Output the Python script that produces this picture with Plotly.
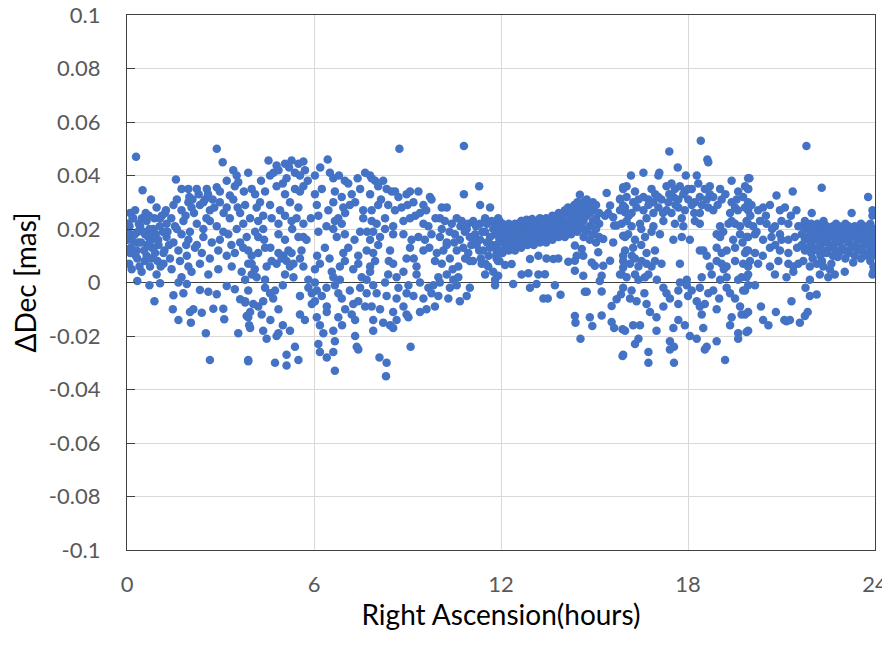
import plotly.graph_objects as go

# (RA hours, dDec mas), grouped by RA range
pts_0_4h = [
    (0.29, 0.047), (2.88, 0.050), (3.07, 0.045), (1.57, 0.0385), (0.50, 0.0345), (1.75, 0.035),
    (1.97, 0.035), (2.24, 0.035), (0.77, 0.031), (3.41, 0.042), (3.52, 0.040), (3.57, 0.0375),
    (3.46, 0.036), (2.56, 0.035), (2.88, 0.0356), (2.98, 0.034), (3.20, 0.038), (3.30, 0.0325),
    (0.10, 0.026), (0.26, 0.027), (0.95, 0.028), (1.22, 0.026), (1.49, 0.029), (1.75, 0.027),
    (1.97, 0.030), (2.07, 0.028), (2.34, 0.029), (2.50, 0.031), (2.66, 0.027), (2.98, 0.030),
    (3.20, 0.028), (3.41, 0.031), (3.63, 0.026), (2.00, 0.032), (2.10, 0.031), (2.30, 0.033),
    (2.45, 0.030), (2.60, 0.033), (2.75, 0.031),
    (0.04, 0.022), (0.20, 0.024), (0.42, 0.021), (0.63, 0.023), (0.85, 0.020), (1.06, 0.024),
    (1.27, 0.022), (1.54, 0.021), (1.81, 0.023), (2.02, 0.019), (2.24, 0.022), (2.45, 0.020),
    (2.66, 0.023), (2.88, 0.021), (3.09, 0.019), (3.30, 0.024), (3.52, 0.020), (3.73, 0.022),
    (0.02, 0.016), (0.15, 0.017), (0.36, 0.015), (0.58, 0.018), (0.79, 0.016), (1.01, 0.014),
    (1.27, 0.017), (1.49, 0.015), (1.75, 0.018), (1.97, 0.016), (2.24, 0.014), (2.45, 0.017),
    (2.72, 0.015), (2.98, 0.016), (3.25, 0.018), (3.63, 0.015), (3.84, 0.017),
    (0.10, 0.011), (0.31, 0.012), (0.63, 0.010), (0.85, 0.013), (1.17, 0.011), (1.38, 0.009),
    (1.65, 0.012), (1.92, 0.010), (2.18, 0.013), (2.40, 0.011), (2.66, 0.009), (2.93, 0.012),
    (3.20, 0.010), (3.46, 0.011), (3.73, 0.013),
    (0.07, 0.007), (0.47, 0.004), (0.74, 0.006), (0.95, 0.003), (1.17, 0.007), (1.43, 0.005),
    (1.75, 0.002), (1.97, 0.006), (2.07, 0.004), (2.34, 0.007), (2.61, 0.003), (2.93, 0.005),
    (3.36, 0.006), (3.68, 0.004), (3.89, 0.007),
    (0.05, 0.019), (0.12, 0.013), (0.18, 0.024), (0.25, 0.018), (0.33, 0.009), (0.38, 0.022),
    (0.45, 0.015), (0.52, 0.019), (0.55, 0.012), (0.60, 0.026), (0.68, 0.017), (0.72, 0.020),
    (0.80, 0.013), (0.88, 0.024), (0.92, 0.018), (0.98, 0.008), (1.05, 0.021), (1.12, 0.025),
    (1.20, 0.012), (1.30, 0.019),
    (0.03, 0.012), (0.08, 0.021), (0.15, 0.005), (0.22, 0.015), (0.28, 0.010), (0.35, 0.019),
    (0.40, 0.006), (0.48, 0.024), (0.57, 0.008), (0.65, 0.014), (0.70, 0.025), (0.78, 0.009),
    (0.83, 0.018), (0.90, 0.011), (1.00, 0.016), (1.08, 0.006), (1.15, 0.019), (1.25, 0.027),
    (1.35, 0.014), (1.42, 0.024), (1.60, 0.020), (1.70, 0.008), (1.88, 0.025), (2.15, 0.026),
    (2.55, 0.024), (2.80, 0.028), (3.10, 0.026), (3.35, 0.014), (3.55, 0.028), (3.75, 0.034),
    (1.60, 0.031), (1.90, 0.014),
    (0.33, 0.0006), (0.72, -0.001), (1.06, -0.0003), (1.65, 0.0), (1.92, -0.0006), (1.49, -0.0048),
    (1.81, -0.004), (0.88, -0.007), (2.34, -0.0028), (2.61, -0.0035), (2.88, -0.0044), (3.20, -0.0013),
    (3.46, -0.0025), (3.63, -0.0063), (3.79, -0.0075), (1.47, -0.010), (2.02, -0.011), (2.13, -0.010),
    (2.40, -0.0113), (2.77, -0.0098), (3.09, -0.0098), (1.65, -0.014), (2.05, -0.015), (2.53, -0.019),
    (3.12, -0.0137), (3.57, -0.019), (2.66, -0.029), (3.89, -0.0294), (3.84, -0.0125), (3.92, -0.016),
]

pts_4_8h = [
    (4.54, 0.0456), (4.80, 0.0437), (5.07, 0.0444), (5.28, 0.0456), (5.50, 0.0444), (5.66, 0.0452),
    (6.44, 0.046),
    (3.89, 0.041), (4.59, 0.040), (4.86, 0.042), (5.12, 0.039), (5.39, 0.041), (5.55, 0.040),
    (5.71, 0.042), (6.03, 0.040), (6.51, 0.041), (6.62, 0.039), (6.99, 0.038), (7.64, 0.041),
    (7.85, 0.039),
    (4.00, 0.035), (4.11, 0.033), (4.43, 0.034), (4.80, 0.036), (5.07, 0.033), (5.39, 0.035),
    (5.55, 0.034), (5.66, 0.036), (6.03, 0.033), (6.25, 0.035), (6.67, 0.034), (6.89, 0.032),
    (7.21, 0.033), (7.48, 0.035), (7.80, 0.033),
    (3.79, 0.029), (4.16, 0.028), (4.27, 0.030), (4.59, 0.029), (4.91, 0.027), (5.23, 0.030),
    (5.50, 0.028), (6.09, 0.029), (6.46, 0.027), (6.62, 0.030), (6.94, 0.028), (7.15, 0.029),
    (7.32, 0.030), (7.58, 0.027),
    (3.95, 0.024), (4.21, 0.023), (4.37, 0.025), (4.64, 0.024), (4.86, 0.022), (5.07, 0.025),
    (5.28, 0.023), (5.44, 0.024), (5.66, 0.022), (6.14, 0.025), (6.67, 0.023), (6.78, 0.024),
    (6.89, 0.022), (7.58, 0.024), (7.85, 0.023),
    (4.11, 0.019), (4.21, 0.017), (4.37, 0.020), (4.86, 0.018), (5.07, 0.016), (5.50, 0.017),
    (5.66, 0.017), (5.76, 0.016), (6.14, 0.019), (6.62, 0.020), (6.73, 0.017), (6.99, 0.018),
    (7.48, 0.019), (7.80, 0.016),
    (3.89, 0.012), (4.00, 0.010), (4.21, 0.011), (4.43, 0.013), (4.86, 0.011), (5.02, 0.010),
    (5.18, 0.012), (5.28, 0.011), (6.35, 0.013), (6.94, 0.011), (7.42, 0.010), (7.69, 0.012),
    (7.90, 0.011),
    (4.00, 0.007), (4.48, 0.006), (4.64, 0.008), (4.80, 0.007), (4.96, 0.009), (5.12, 0.008),
    (5.23, 0.006), (5.34, 0.007), (5.55, 0.009), (5.66, 0.006), (6.03, 0.005), (6.19, 0.007),
    (6.57, 0.004), (6.83, 0.006), (6.99, 0.008), (7.26, 0.005), (7.42, 0.007), (7.80, 0.006),
    (3.79, 0.001), (4.00, 0.003), (4.16, 0.002), (4.43, 0.001), (5.07, 0.003), (5.34, 0.002),
    (5.82, 0.001), (6.03, 0.0), (6.62, 0.002), (6.83, 0.001), (7.53, 0.002), (7.69, 0.001),
    (4.30, 0.038), (4.70, 0.041), (5.00, 0.037), (5.20, 0.043), (5.80, 0.038), (6.20, 0.043),
    (6.80, 0.040), (7.10, 0.037), (7.40, 0.039), (4.40, 0.016), (5.30, 0.020), (5.90, 0.024),
    (6.40, 0.021), (7.00, 0.026), (7.30, 0.016), (7.70, 0.019), (4.60, 0.013), (5.60, 0.012),
    (6.10, 0.010), (6.50, 0.009), (7.10, 0.013), (4.10, 0.005), (5.00, -0.001), (6.40, -0.002),
    (7.00, -0.010), (4.60, -0.014), (5.00, -0.016), (6.90, -0.016),
    (3.89, -0.003), (4.43, -0.002), (4.59, -0.004), (4.75, -0.003), (5.55, -0.005), (5.82, -0.002),
    (5.93, -0.004), (6.09, -0.003), (6.25, -0.005), (6.67, -0.001), (6.78, -0.004), (7.15, -0.003),
    (7.48, -0.002), (7.69, -0.004),
    (3.79, -0.007), (4.05, -0.008), (4.21, -0.009), (4.37, -0.007), (4.69, -0.006), (4.86, -0.010),
    (5.93, -0.008), (6.03, -0.007), (6.41, -0.009), (6.89, -0.006), (7.26, -0.008), (7.42, -0.007),
    (7.64, -0.009),
    (3.89, -0.013), (3.95, -0.011), (4.32, -0.012), (5.55, -0.012), (5.71, -0.014), (6.09, -0.013),
    (6.41, -0.011), (6.78, -0.013), (7.21, -0.012), (7.32, -0.014),
    (3.95, -0.017), (4.37, -0.018), (4.86, -0.019), (5.23, -0.018), (6.19, -0.016), (6.30, -0.019),
    (6.62, -0.018), (7.32, -0.020),
    (4.48, -0.021), (4.80, -0.020), (5.39, -0.024), (6.14, -0.023), (6.67, -0.022), (7.37, -0.024),
    (7.42, -0.025),
    (3.89, -0.029), (4.75, -0.030), (5.12, -0.027), (5.50, -0.029), (6.19, -0.026), (6.41, -0.028),
    (6.62, -0.026), (5.12, -0.031), (6.67, -0.033),
]

pts_8_12h = [
    (8.74, 0.050), (10.81, 0.051), (11.30, 0.036), (10.81, 0.033),
    (7.80, 0.040), (7.96, 0.038), (8.22, 0.038),
    (8.06, 0.036), (8.33, 0.035), (8.49, 0.034), (8.71, 0.032), (8.97, 0.033), (9.08, 0.034),
    (9.35, 0.034), (9.72, 0.032), (9.77, 0.031),
    (7.85, 0.027), (8.06, 0.029), (8.38, 0.029), (8.60, 0.027), (8.81, 0.028), (9.19, 0.030),
    (9.40, 0.026), (9.51, 0.029), (10.10, 0.028), (10.26, 0.028), (11.33, 0.029), (11.65, 0.028),
    (8.01, 0.022), (8.28, 0.024), (8.54, 0.021), (8.87, 0.023), (9.08, 0.024), (9.51, 0.022),
    (9.67, 0.021), (10.04, 0.024), (10.20, 0.023), (10.42, 0.022), (10.58, 0.024), (10.74, 0.023),
    (10.95, 0.022), (11.11, 0.023), (11.33, 0.022), (11.49, 0.024), (11.70, 0.023), (11.91, 0.022),
    (7.90, 0.019), (8.12, 0.017), (8.28, 0.020), (8.54, 0.018), (8.87, 0.018), (9.13, 0.016),
    (9.35, 0.017), (9.56, 0.016), (9.77, 0.018), (10.04, 0.017), (10.26, 0.015), (10.52, 0.018),
    (10.68, 0.016), (10.84, 0.019), (11.00, 0.017), (11.17, 0.018), (11.33, 0.016), (11.49, 0.019),
    (11.65, 0.017), (11.81, 0.018), (11.97, 0.016),
    (10.90, 0.020), (11.05, 0.014), (11.20, 0.021), (11.30, 0.012), (11.40, 0.019), (11.55, 0.015),
    (11.60, 0.010), (11.75, 0.020), (11.85, 0.013), (11.95, 0.019), (11.50, 0.007), (11.90, 0.008),
    (11.75, 0.004), (11.10, 0.008),
    (8.15, 0.031), (8.60, 0.034), (9.00, 0.029), (9.25, 0.025), (9.60, 0.027), (9.90, 0.024),
    (10.10, 0.020), (10.35, 0.019), (10.50, 0.015), (10.70, 0.021), (10.85, 0.009), (11.15, 0.016),
    (11.35, 0.009), (11.55, 0.022), (11.70, 0.014), (9.70, 0.013), (9.20, 0.009), (8.40, 0.008),
    (10.15, 0.012), (10.45, 0.005),
    (8.06, 0.014), (8.44, 0.012), (9.08, 0.013), (9.51, 0.012), (9.94, 0.011), (10.26, 0.014),
    (10.58, 0.012), (10.79, 0.013), (10.95, 0.011), (11.22, 0.014), (11.43, 0.012), (11.65, 0.013),
    (11.86, 0.011),
    (7.96, 0.008), (8.54, 0.007), (8.97, 0.009), (9.29, 0.006), (9.88, 0.008), (10.10, 0.007),
    (10.36, 0.009), (10.63, 0.006), (11.00, 0.008), (11.38, 0.007), (11.59, 0.006), (11.86, 0.009),
    (7.80, 0.004), (8.38, 0.003), (8.65, 0.002), (8.87, 0.004), (9.29, 0.003), (9.99, 0.002),
    (10.26, 0.003), (10.47, 0.001), (10.63, 0.002), (11.49, 0.003), (11.81, 0.001),
    (7.90, -0.001), (8.28, 0.0), (8.71, -0.002), (9.03, -0.001), (9.40, 0.0), (9.67, -0.002),
    (9.83, -0.001), (10.04, 0.0), (10.36, -0.002), (10.58, -0.001), (11.00, -0.002),
    (8.01, -0.004), (8.33, -0.005), (8.65, -0.006), (8.97, -0.004), (9.19, -0.005), (9.51, -0.006),
    (9.77, -0.004), (9.99, -0.005), (10.31, -0.006), (10.68, -0.007), (10.90, -0.005),
    (7.85, -0.009), (8.12, -0.010), (8.54, -0.011), (8.87, -0.009), (9.40, -0.011), (9.61, -0.010),
    (9.88, -0.009),
    (7.90, -0.014), (8.22, -0.015), (8.44, -0.016), (8.65, -0.014), (8.97, -0.012), (9.03, -0.013),
    (7.90, -0.018), (8.54, -0.017), (9.10, -0.024), (8.10, -0.028), (8.33, -0.030), (8.31, -0.035),
]

pts_12_16h = [
    (11.85, 0.010), (11.85, 0.014), (11.85, 0.018), (11.85, 0.021),
    (11.95, 0.008), (11.95, 0.012), (11.95, 0.016), (11.95, 0.020), (11.95, 0.023),
    (12.05, 0.011), (12.05, 0.015), (12.05, 0.018), (12.05, 0.022),
    (12.15, 0.013), (12.15, 0.017), (12.15, 0.020),
    (12.25, 0.012), (12.25, 0.015), (12.25, 0.019), (12.25, 0.022),
    (12.35, 0.014), (12.35, 0.017), (12.35, 0.021),
    (12.45, 0.012), (12.45, 0.016), (12.45, 0.019), (12.45, 0.022),
    (12.55, 0.014), (12.55, 0.018), (12.55, 0.021),
    (12.65, 0.013), (12.65, 0.016), (12.65, 0.020), (12.65, 0.023),
    (12.75, 0.015), (12.75, 0.018), (12.75, 0.021),
    (12.85, 0.014), (12.85, 0.017), (12.85, 0.020), (12.85, 0.022),
    (12.95, 0.015), (12.95, 0.019), (12.95, 0.022),
    (13.05, 0.014), (13.05, 0.017), (13.05, 0.020), (13.05, 0.023),
    (13.15, 0.016), (13.15, 0.019), (13.15, 0.022),
    (13.25, 0.015), (13.25, 0.018), (13.25, 0.021), (13.25, 0.024),
    (13.35, 0.016), (13.35, 0.020), (13.35, 0.023),
    (13.45, 0.015), (13.45, 0.018), (13.45, 0.022), (13.45, 0.024),
    (13.55, 0.017), (13.55, 0.020), (13.55, 0.023),
    (13.65, 0.016), (13.65, 0.019), (13.65, 0.022), (13.65, 0.025),
    (13.75, 0.018), (13.75, 0.021), (13.75, 0.024),
    (13.85, 0.017), (13.85, 0.020), (13.85, 0.023), (13.85, 0.026),
    (13.95, 0.018), (13.95, 0.022), (13.95, 0.025),
    (14.05, 0.017), (14.05, 0.020), (14.05, 0.023), (14.05, 0.027),
    (14.15, 0.019), (14.15, 0.022), (14.15, 0.026), (14.15, 0.028),
    (14.25, 0.018), (14.25, 0.021), (14.25, 0.024), (14.25, 0.027),
    (14.35, 0.020), (14.35, 0.023), (14.35, 0.026), (14.35, 0.029),
    (14.45, 0.019), (14.45, 0.022), (14.45, 0.025), (14.45, 0.028), (14.45, 0.030),
    (14.55, 0.021), (14.55, 0.024), (14.55, 0.027), (14.55, 0.029),
    (14.65, 0.017), (14.65, 0.020), (14.65, 0.023), (14.65, 0.026), (14.65, 0.030),
    (14.75, 0.019), (14.75, 0.025), (14.75, 0.028), (14.75, 0.031),
    (14.85, 0.016), (14.85, 0.021), (14.85, 0.026), (14.85, 0.029),
    (14.95, 0.018), (14.95, 0.023), (14.95, 0.027), (14.95, 0.030),
    (15.05, 0.015), (15.05, 0.020), (15.05, 0.024), (15.05, 0.029),
    (15.15, 0.017), (15.15, 0.022), (15.15, 0.026),
    (14.53, 0.0328), (15.39, 0.0335), (15.92, 0.0356), (11.91, 0.024), (12.66, 0.023), (12.82, 0.0235),
    (13.00, 0.0237), (11.81, -0.001), (11.91, 0.0025),
    (12.34, 0.0069), (12.13, 0.0065), (12.93, 0.0088), (13.20, 0.010), (13.46, 0.009), (13.68, 0.0088),
    (13.84, 0.009), (13.20, 0.003), (13.41, 0.0031), (12.66, 0.003), (12.88, 0.0035), (12.39, -0.0006),
    (12.93, -0.002), (13.14, -0.0006), (13.73, -0.001), (13.91, -0.0046), (13.36, -0.006), (13.50, -0.006),
    (14.16, 0.0078), (14.37, 0.0081), (14.37, 0.0044), (14.64, 0.0025), (14.69, -0.0035), (14.75, -0.0035),
    (15.23, -0.0034), (15.17, 0.0006), (15.23, 0.0025), (14.37, -0.0125), (14.39, -0.015), (14.55, -0.021),
    (14.85, -0.013), (14.93, -0.0163), (15.23, -0.0123), (15.55, -0.0088), (15.55, -0.0148), (15.63, -0.017),
    (15.71, -0.0063), (15.85, -0.0044), (15.90, -0.0175), (15.90, -0.0275), (14.37, 0.0138), (14.43, 0.010),
    (14.59, 0.0125), (14.64, 0.010), (14.91, 0.0075), (15.01, 0.0063), (15.28, 0.0063), (15.50, 0.0081),
    (15.60, 0.015), (15.63, 0.0213), (15.92, 0.0175), (15.92, 0.010), (15.92, 0.0056), (15.87, 0.0031),
    (15.12, 0.0113), (15.28, 0.0163), (15.34, 0.025), (15.44, 0.026), (15.50, 0.0288), (15.60, 0.0244),
    (15.71, 0.0213), (15.82, 0.0313), (15.92, 0.0288), (15.98, 0.0263),
]

pts_16_20h = [
    (18.41, 0.053), (17.40, 0.049), (18.62, 0.046), (18.65, 0.045), (16.57, 0.041), (16.17, 0.040),
    (17.08, 0.041), (17.05, 0.040), (17.67, 0.043), (17.93, 0.040), (18.28, 0.040), (19.40, 0.038),
    (19.93, 0.039),
    (15.92, 0.035), (16.03, 0.036), (16.30, 0.034), (16.83, 0.035), (17.31, 0.036), (17.47, 0.037),
    (17.58, 0.035), (17.74, 0.036), (17.90, 0.034), (18.12, 0.035), (18.33, 0.037), (18.54, 0.035),
    (18.70, 0.036), (19.03, 0.035), (19.61, 0.034), (19.83, 0.036), (19.93, 0.035),
    (15.82, 0.031), (16.03, 0.032), (16.24, 0.030), (16.41, 0.031), (16.57, 0.032), (16.73, 0.031),
    (16.89, 0.030), (17.05, 0.032), (17.15, 0.031), (17.37, 0.030), (17.53, 0.032), (17.69, 0.031),
    (17.85, 0.033), (18.01, 0.031), (18.22, 0.030), (18.38, 0.032), (18.60, 0.031), (18.81, 0.032),
    (19.08, 0.031), (19.40, 0.030), (19.56, 0.031), (19.77, 0.032), (19.93, 0.030),
    (15.82, 0.027), (15.98, 0.028), (16.19, 0.026), (16.57, 0.027), (16.73, 0.029), (16.89, 0.026),
    (17.05, 0.028), (17.31, 0.027), (17.47, 0.026), (17.69, 0.028), (17.90, 0.027), (18.12, 0.029),
    (18.38, 0.026), (18.65, 0.028), (18.81, 0.027), (19.35, 0.026), (19.51, 0.028), (19.93, 0.027),
    (15.87, 0.022), (16.03, 0.023), (16.19, 0.021), (16.46, 0.022), (16.67, 0.024), (16.89, 0.021),
    (17.21, 0.023), (17.58, 0.022), (17.85, 0.021), (18.22, 0.023), (18.38, 0.022), (19.03, 0.021),
    (19.40, 0.023), (19.51, 0.022), (19.67, 0.021), (19.88, 0.023),
    (15.98, 0.017), (16.08, 0.018), (16.30, 0.016), (16.62, 0.017), (16.83, 0.019), (17.10, 0.018),
    (17.53, 0.016), (17.80, 0.017), (18.06, 0.016), (18.92, 0.018), (19.03, 0.017), (19.13, 0.019),
    (19.45, 0.016), (19.67, 0.018), (19.93, 0.017),
    (16.10, 0.025), (16.35, 0.028), (16.50, 0.020), (16.95, 0.033), (17.20, 0.026), (17.40, 0.033),
    (17.60, 0.029), (17.80, 0.024), (18.00, 0.035), (18.20, 0.026), (18.45, 0.029), (18.70, 0.033),
    (18.95, 0.029), (19.20, 0.033), (19.30, 0.022), (19.60, 0.027), (19.75, 0.015), (16.20, 0.010),
    (16.50, 0.014), (18.60, 0.010), (19.15, 0.005), (16.60, -0.004), (18.00, -0.005), (19.00, -0.006),
    (15.98, 0.012), (16.24, 0.013), (16.67, 0.011), (16.94, 0.012), (18.38, 0.012), (18.49, 0.012),
    (18.92, 0.013), (19.08, 0.011), (19.24, 0.012), (19.51, 0.013), (19.83, 0.011), (19.88, 0.012),
    (15.92, 0.008), (16.14, 0.007), (16.30, 0.009), (16.41, 0.006), (16.51, 0.008), (16.67, 0.007),
    (16.83, 0.006), (16.94, 0.008), (17.15, 0.007), (17.74, 0.007), (18.70, 0.006), (18.92, 0.008),
    (19.08, 0.007), (19.24, 0.006), (19.51, 0.008), (19.77, 0.007), (19.93, 0.006),
    (15.82, 0.003), (16.03, 0.002), (16.30, 0.003), (16.41, 0.001), (16.62, 0.002), (16.73, 0.003),
    (17.00, 0.001), (17.74, 0.0), (17.96, 0.001), (18.44, 0.002), (18.76, 0.003), (19.03, 0.001),
    (19.24, 0.002), (19.61, 0.001), (19.72, 0.002), (19.93, 0.003),
    (15.92, -0.002), (16.19, -0.003), (17.21, -0.002), (17.31, -0.004), (17.69, -0.003), (17.96, -0.001),
    (18.12, -0.003), (18.38, -0.002), (18.65, -0.004), (18.81, -0.003), (19.24, -0.002), (19.35, -0.004),
    (19.77, -0.003), (19.93, -0.001),
    (16.14, -0.006), (16.35, -0.007), (16.67, -0.008), (17.21, -0.009), (17.42, -0.006), (17.69, -0.008),
    (18.28, -0.007), (18.38, -0.009), (18.54, -0.008), (19.51, -0.006), (19.67, -0.009),
    (16.78, -0.011), (16.99, -0.013), (17.69, -0.014), (18.44, -0.012), (18.92, -0.010), (19.40, -0.013),
    (19.72, -0.012), (19.93, -0.011),
    (15.98, -0.018), (16.24, -0.016), (16.46, -0.016), (16.99, -0.018), (17.53, -0.017), (17.90, -0.016),
    (18.49, -0.017), (19.35, -0.016), (19.61, -0.019), (19.93, -0.018),
    (16.30, -0.023), (16.41, -0.021), (17.42, -0.022), (18.06, -0.020), (18.28, -0.021), (18.60, -0.024),
    (18.92, -0.022), (19.61, -0.021),
    (15.92, -0.027), (16.73, -0.026), (17.42, -0.025), (17.55, -0.024), (18.54, -0.025), (19.19, -0.029),
    (16.73, -0.030), (17.55, -0.030),
]

pts_20_24h = [
    (21.80, 0.051), (22.29, 0.0354), (23.78, 0.032), (21.36, 0.034), (20.84, 0.0325), (19.97, 0.039),
    (19.93, 0.035),
    (19.83, 0.028), (20.04, 0.029), (20.25, 0.027), (20.41, 0.028), (20.63, 0.029), (20.95, 0.027),
    (21.11, 0.028), (21.48, 0.027), (21.97, 0.026),
    (19.93, 0.022), (20.09, 0.021), (20.31, 0.023), (20.52, 0.022), (20.79, 0.021), (21.00, 0.023),
    (21.22, 0.022), (21.54, 0.021),
    (19.88, 0.017), (20.15, 0.018), (20.41, 0.016), (20.68, 0.017), (20.95, 0.018), (21.22, 0.016),
    (21.43, 0.017),
    (19.93, 0.012), (20.15, 0.011), (20.63, 0.013), (20.95, 0.012), (21.22, 0.011),
    (20.00, 0.025), (20.20, 0.019), (20.50, 0.025), (20.70, 0.020), (21.00, 0.016), (21.30, 0.025),
    (21.50, 0.013), (20.40, 0.010), (20.80, 0.014),
    (19.99, 0.008), (20.25, 0.007), (20.63, 0.006), (20.90, 0.008), (21.22, 0.007), (21.38, 0.006),
    (21.54, 0.007), (21.70, 0.008), (21.91, 0.006), (22.13, 0.007), (22.34, 0.006), (22.55, 0.005),
    (19.88, 0.002), (20.79, 0.003), (21.16, 0.002), (21.38, 0.004), (21.91, 0.001), (22.23, 0.003),
    (22.50, 0.002), (22.71, 0.003), (23.03, 0.004), (23.92, 0.003),
    (20.15, -0.001), (19.83, -0.003), (21.77, -0.002), (21.91, -0.005), (22.13, -0.0045), (20.34, -0.009),
    (21.32, -0.007), (19.83, -0.012), (20.41, -0.014), (20.58, -0.016), (20.82, -0.011), (21.09, -0.014),
    (21.16, -0.0145), (21.27, -0.014), (21.59, -0.015), (21.75, -0.0125), (21.84, -0.011), (19.88, -0.0185),
    (21.65, 0.014), (21.65, 0.018), (21.65, 0.021),
    (21.75, 0.012), (21.75, 0.016), (21.75, 0.020), (21.75, 0.023),
    (21.85, 0.013), (21.85, 0.017), (21.85, 0.021),
    (21.95, 0.011), (21.95, 0.015), (21.95, 0.019), (21.95, 0.022),
    (22.05, 0.013), (22.05, 0.017), (22.05, 0.020),
    (22.15, 0.012), (22.15, 0.016), (22.15, 0.019), (22.15, 0.022),
    (22.25, 0.010), (22.25, 0.014), (22.25, 0.018), (22.25, 0.021),
    (22.35, 0.012), (22.35, 0.016), (22.35, 0.019), (22.35, 0.023),
    (22.45, 0.011), (22.45, 0.015), (22.45, 0.018), (22.45, 0.021),
    (22.55, 0.013), (22.55, 0.017), (22.55, 0.020),
    (22.65, 0.010), (22.65, 0.014), (22.65, 0.018), (22.65, 0.021),
    (22.75, 0.012), (22.75, 0.016), (22.75, 0.019), (22.75, 0.022),
    (22.85, 0.011), (22.85, 0.015), (22.85, 0.018), (22.85, 0.021),
    (22.95, 0.013), (22.95, 0.017), (22.95, 0.020),
    (23.05, 0.009), (23.05, 0.012), (23.05, 0.016), (23.05, 0.019), (23.05, 0.022),
    (23.15, 0.011), (23.15, 0.015), (23.15, 0.018), (23.15, 0.021),
    (23.25, 0.013), (23.25, 0.017), (23.25, 0.020), (23.25, 0.026),
    (23.35, 0.010), (23.35, 0.014), (23.35, 0.018), (23.35, 0.021),
    (23.45, 0.012), (23.45, 0.016), (23.45, 0.019),
    (23.55, 0.009), (23.55, 0.013), (23.55, 0.017), (23.55, 0.020), (23.55, 0.022),
    (23.65, 0.011), (23.65, 0.015), (23.65, 0.018), (23.65, 0.021),
    (23.75, 0.010), (23.75, 0.014), (23.75, 0.017), (23.75, 0.020),
    (23.85, 0.008), (23.85, 0.012), (23.85, 0.016), (23.85, 0.019), (23.85, 0.022),
    (23.92, 0.010), (23.92, 0.014), (23.92, 0.018), (23.92, 0.025), (23.92, 0.027),
    (23.97, 0.012), (23.97, 0.016), (23.97, 0.020),
    (22.00, 0.009), (22.30, 0.008), (22.60, 0.007), (22.80, 0.0095), (23.30, 0.0075), (23.95, 0.004),
    (23.95, 0.006),
]

y_ticks = [0.1, 0.08, 0.06, 0.04, 0.02, 0, -0.02, -0.04, -0.06, -0.08, -0.1]
y_labels = ["0.1", "0.08", "0.06", "0.04", "0.02", "0", "-0.02", "-0.04", "-0.06", "-0.08", "-0.1"]
x_ticks = [0, 6, 12, 18, 24]

all_pts = pts_0_4h + pts_4_8h + pts_8_12h + pts_12_16h + pts_16_20h + pts_20_24h
ra = [p[0] for p in all_pts]
ddec = [p[1] for p in all_pts]

fontTick = dict(family="Lato, Open Sans, sans-serif", size=22, color="#595959")
fontTitle = dict(family="Lato, Open Sans, sans-serif", size=28, color="black")

fig = go.Figure()
fig.add_trace(go.Scatter(
    x=ra, y=ddec, mode="markers",
    marker=dict(color="#4472C4", size=8.5, line=dict(width=0)),
    showlegend=False,
))

# the page body adds an 8px offset, so margins are shifted to land the plot box where the reference has it
fig.update_layout(
    width=890, height=645,
    margin=dict(l=119, r=23, t=7, b=103),
    paper_bgcolor="white", plot_bgcolor="white",
    xaxis=dict(
        range=[0, 24], tickvals=x_ticks, tickfont=fontTick, automargin=False,
        showgrid=True, gridcolor="#d9d9d9", gridwidth=1,
        showline=True, linecolor="#404040", linewidth=1.3, mirror=True,
        zeroline=False, ticks="", ticklabelstandoff=14, ticklabeloverflow="allow",
        title=dict(text="Right Ascension(hours)", font=fontTitle, standoff=8),
    ),
    yaxis=dict(
        range=[-0.1, 0.1], tickvals=y_ticks, ticktext=y_labels, tickfont=fontTick, automargin=False,
        showgrid=True, gridcolor="#d9d9d9", gridwidth=1,
        showline=True, linecolor="#404040", linewidth=1.3, mirror=True,
        zeroline=True, zerolinecolor="#404040", zerolinewidth=1.3,
        ticks="inside", ticklen=8, tickcolor="#404040", ticklabelstandoff=21, ticklabeloverflow="allow",
        title=dict(text="ΔDec [mas]", font=fontTitle, standoff=15),
    ),
)

fig.write_html("out.html")
